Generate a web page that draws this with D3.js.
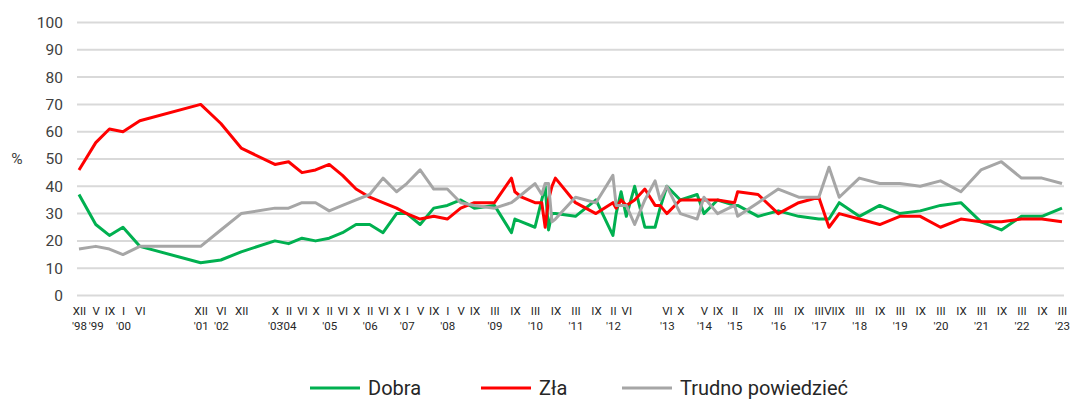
<!DOCTYPE html>
<html>
<head>
<meta charset="utf-8">
<script src="https://cdn.jsdelivr.net/npm/d3@7"></script>
<style>
  body { margin: 0; background: #fff; font-family: Roboto, "Noto Sans", sans-serif; }
</style>
</head>
<body>
<div id="chart"></div>
<script>
// survey dates (year-month[-day]) and answers in %
const dates = [
  "1998-12", "1999-05", "1999-09", "2000-01", "2000-06", "2001-12", "2002-06", "2002-12",
  "2003-10", "2004-02", "2004-06", "2004-10", "2005-02", "2005-06", "2005-10", "2006-02",
  "2006-06", "2006-10", "2007-01", "2007-05", "2007-09", "2008-01", "2008-05", "2008-09",
  "2009-03", "2009-08", "2009-09", "2009-11", "2010-03", "2010-05", "2010-06", "2010-07",
  "2010-08", "2010-09", "2011-03", "2011-09", "2012-02", "2012-03", "2012-04-15", "2012-06",
  "2012-08-15", "2012-11-15", "2013-02-15", "2013-04", "2013-06", "2013-10", "2014-03",
  "2014-05", "2014-09", "2015-02", "2015-03", "2015-09", "2016-03", "2016-09", "2017-03",
  "2017-06", "2017-09", "2018-03", "2018-09", "2019-03", "2019-09", "2020-03", "2020-09",
  "2021-03", "2021-09", "2022-03", "2022-09", "2023-03"
];
const dobra = [
  37, 26, 22, 25, 18, 12, 13, 16,
  20, 19, 21, 20, 21, 23, 26, 26,
  23, 30, 30, 26, 32, 33, 35, 32,
  33, 23, 28, 27, 25, 35, 40, 24,
  30, 30, 29, 35, 22, 30, 38, 29,
  40, 25, 25, 32, 40, 35, 37,
  30, 35, 33, 33, 29, 31, 29, 28,
  28, 34, 29, 33, 30, 31, 33, 34,
  27, 24, 29, 29, 32
];
const zla = [
  46, 56, 61, 60, 64, 70, 63, 54,
  48, 49, 45, 46, 48, 44, 39, 36,
  34, 32, 30, 28, 29, 28, 32, 34,
  34, 43, 38, 36, 34, 34, 25, 35,
  40, 43, 34, 30, 34, 32, 35, 33,
  35, 39, 33, 33, 30, 35, 35,
  35, 35, 34, 38, 37, 30, 34, 36,
  25, 30, 28, 26, 29, 29, 25, 28,
  27, 27, 28, 28, 27
];
const trudno = [
  17, 18, 17, 15, 18, 18, 24, 30,
  32, 32, 34, 34, 31, 33, 35, 37,
  43, 38, 41, 46, 39, 39, 34, 33,
  32, 34, 35, 37, 41, 37, 41, 41,
  27, 28, 36, 34, 44, 33, 33, 33,
  26, 35, 42, 35, 40, 30, 28,
  36, 30, 33, 29, 34, 39, 36, 36,
  47, 36, 43, 41, 41, 40, 42, 38,
  46, 49, 43, 43, 41
];

const seriesNames = ["Dobra", "Zła", "Trudno powiedzieć"];
const seriesColors = ["#00b050", "#ff0000", "#a6a6a6"];

// x axis labels: month (roman) and year shown under the first label of a year
const tickDates = [
  "1998-12", "1999-05", "1999-09", "2000-01", "2000-06", "2001-12", "2002-06", "2002-12",
  "2003-10", "2004-02", "2004-06", "2004-10", "2005-02", "2005-06", "2005-10", "2006-02",
  "2006-06", "2006-10", "2007-01", "2007-05", "2007-09", "2008-01", "2008-05", "2008-09",
  "2009-03", "2009-09", "2010-03", "2010-09", "2011-03", "2011-09", "2012-02", "2012-06",
  "2013-06", "2013-10", "2014-05", "2014-09", "2015-02", "2015-09", "2016-03", "2016-09",
  "2017-03", "2017-06", "2017-09", "2018-03", "2018-09", "2019-03", "2019-09", "2020-03",
  "2020-09", "2021-03", "2021-09", "2022-03", "2022-09", "2023-03"
];
const tickMonths = [
  "XII", "V", "IX", "I", "VI", "XII", "VI", "XII",
  "X", "II", "VI", "X", "II", "VI", "X", "II",
  "VI", "X", "I", "V", "IX", "I", "V", "IX",
  "III", "IX", "III", "IX", "III", "IX", "II", "VI",
  "VI", "X", "V", "IX", "II", "IX", "III", "IX",
  "III", "VI", "IX", "III", "IX", "III", "IX", "III",
  "IX", "III", "IX", "III", "IX", "III"
];
const tickYears = [
  "'98", "'99", "", "'00", "", "'01", "'02", "",
  "'03", "'04", "", "", "'05", "", "", "'06",
  "", "", "'07", "", "", "'08", "", "",
  "'09", "", "'10", "", "'11", "", "'12", "",
  "'13", "", "'14", "", "'15", "", "'16", "",
  "'17", "", "", "'18", "", "'19", "", "'20",
  "", "'21", "", "'22", "", "'23"
];
const yTicks = [0, 10, 20, 30, 40, 50, 60, 70, 80, 90, 100];

(function () {
  const width = 1070, height = 400;
  const parse = d3.timeParse("%Y-%m"), parseDay = d3.timeParse("%Y-%m-%d");
  const toDate = s => parse(s) || parseDay(s);

  const x = d3.scaleTime()
    .domain([toDate("1998-12"), toDate("2023-03")])
    .range([79, 1062]);
  const y = d3.scaleLinear().domain([0, 100]).range([295.5, 22.5]);

  const svg = d3.select("#chart").append("svg")
    .attr("width", width)
    .attr("height", height);

  // gridlines
  svg.append("g")
    .selectAll("line")
    .data(yTicks)
    .enter().append("line")
    .attr("x1", 77).attr("x2", 1064)
    .attr("y1", d => y(d)).attr("y2", d => y(d))
    .attr("stroke", "#d9d9d9")
    .attr("stroke-width", 2);

  // y axis labels
  svg.append("g")
    .attr("transform", "translate(63,0)")
    .call(d3.axisLeft(y).tickValues(yTicks).tickSize(0).tickPadding(0))
    .call(g => g.select(".domain").remove())
    .call(g => g.selectAll("text")
      .attr("font-size", 15.5)
      .attr("font-family", "Roboto, sans-serif")
      .attr("fill", "#404040"));

  svg.append("text")
    .attr("x", 17).attr("y", y(50))
    .attr("dy", "0.35em")
    .attr("text-anchor", "middle")
    .attr("font-size", 15.5)
    .attr("fill", "#404040")
    .text("%");

  // x axis labels
  const xa = svg.append("g")
    .attr("transform", `translate(0,${y(0)})`)
    .call(d3.axisBottom(x)
      .tickValues(tickDates.map(toDate))
      .tickSize(0)
      .tickPadding(11)
      .tickFormat((d, i) => tickMonths[i]));
  xa.select(".domain").remove();
  xa.selectAll(".tick text")
    .attr("font-size", 11.5)
    .attr("font-family", "Roboto, sans-serif")
    .attr("fill", "#262626")
    .each(function (d, i) {
      if (tickYears[i]) {
        d3.select(this).append("tspan")
          .attr("x", 0)
          .attr("dy", "1.35em")
          .text(tickYears[i]);
      }
    });

  // lines
  const allValues = [dobra, zla, trudno];
  const line = d3.line()
    .x((d, i) => x(toDate(dates[i])))
    .y(d => y(d));

  svg.append("g")
    .selectAll("path")
    .data(allValues)
    .enter().append("path")
    .attr("d", d => line(d))
    .attr("fill", "none")
    .attr("stroke", (d, i) => seriesColors[i])
    .attr("stroke-width", 3)
    .attr("stroke-linejoin", "round");

  // legend
  const legendX = [310, 481, 622];
  const legend = svg.append("g")
    .selectAll("g")
    .data(seriesNames)
    .enter().append("g")
    .attr("transform", (d, i) => `translate(${legendX[i]},388)`);
  legend.append("line")
    .attr("x1", 0).attr("x2", 50)
    .attr("stroke", (d, i) => seriesColors[i])
    .attr("stroke-width", 3);
  legend.append("text")
    .attr("x", 58)
    .attr("dy", "0.35em")
    .attr("font-size", 20)
    .attr("fill", "#262626")
    .text(d => d);
})();
</script>
</body>
</html>
